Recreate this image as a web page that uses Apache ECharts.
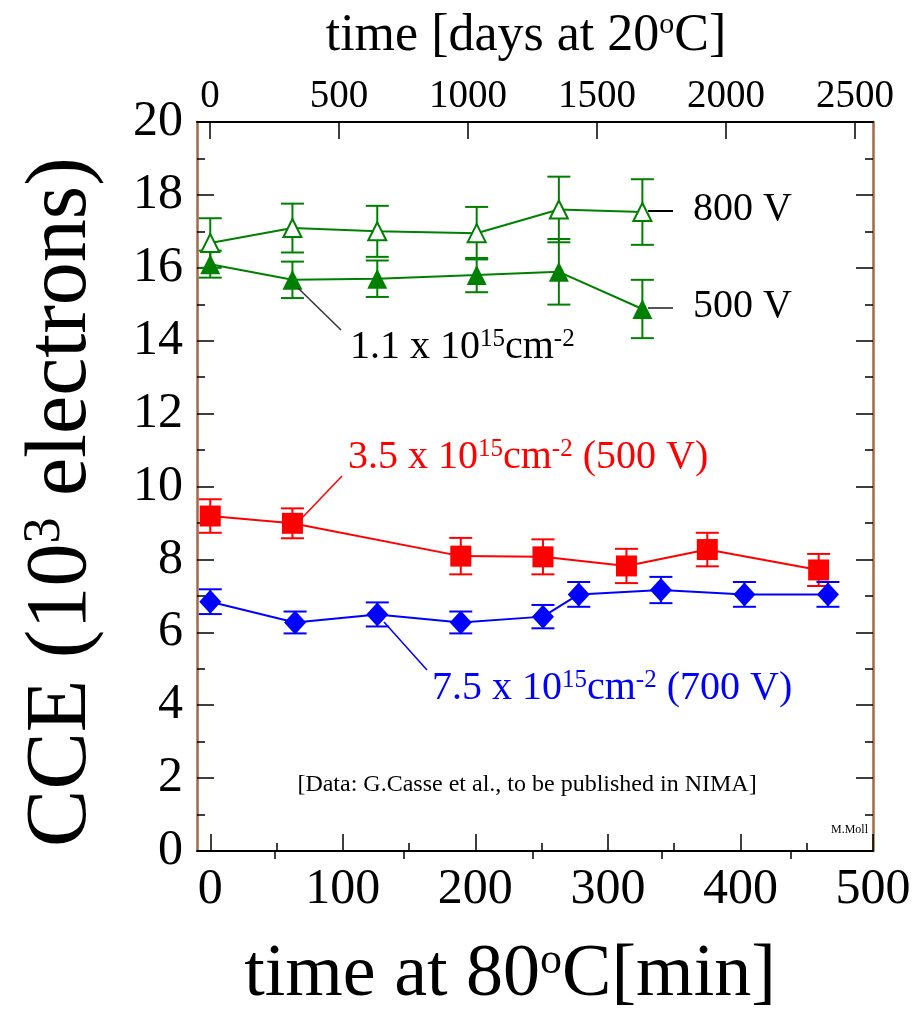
<!DOCTYPE html>
<html>
<head>
<meta charset="utf-8">
<script src="https://cdn.jsdelivr.net/npm/echarts@6/dist/echarts.min.js"></script>
<style>
html,body{margin:0;padding:0;background:#fff;}
#chart{width:920px;height:1009px;}
</style>
</head>
<body>
<div id="chart"></div>
<script>
// ---- data ----
const time800 = [0, 62, 126, 201, 263, 326];
const cce800  = [16.68, 17.09, 17.0, 16.95, 17.6, 17.53];
const err800  = [0.68, 0.67, 0.7, 0.72, 0.9, 0.9];

const time500 = [0, 62, 126, 201, 263, 326];
const cce500  = [16.1, 15.67, 15.7, 15.8, 15.89, 14.87];
const err500  = [0.37, 0.5, 0.5, 0.47, 0.9, 0.8];

const time35 = [0, 62, 189, 251, 314, 375, 459];
const cce35  = [9.19, 8.99, 8.09, 8.07, 7.82, 8.27, 7.71];
const err35  = [0.46, 0.41, 0.5, 0.48, 0.47, 0.46, 0.44];

const time75 = [0, 64, 126, 189, 251, 278, 340, 403, 466];
const cce75  = [6.84, 6.27, 6.49, 6.27, 6.43, 7.04, 7.16, 7.04, 7.04];
const err75  = [0.34, 0.3, 0.33, 0.3, 0.32, 0.34, 0.36, 0.34, 0.34];

const bottomTicks = [0, 100, 200, 300, 400, 500];
const bottomMinor = [50, 150, 250, 350, 450];
const topTicks = [0, 500, 1000, 1500, 2000, 2500];
const topMinor = [250, 750, 1250, 1750, 2250];

// ---- helpers ----
const FONT = '"Liberation Serif", "Times New Roman", serif';
const GREEN = '#008000', RED = '#ff0000', BLUE = '#0000ff', FRAME = '#a0694a';

function pts(t, v) { return t.map((x, i) => [x, v[i]]); }
function errs(t, v, e) { return t.map((x, i) => [x, v[i] - e[i], v[i] + e[i]]); }
function plain(v) { return String(v); }

function errSeries(t, v, e, color) {
  return {
    type: 'custom',
    xAxisIndex: 0, yAxisIndex: 0,
    z: 1,
    silent: true,
    data: errs(t, v, e),
    renderItem: function (params, api) {
      const x = api.value(0), lo = api.value(1), hi = api.value(2);
      const a = api.coord([x, hi]), b = api.coord([x, lo]);
      const w = 11.5;
      const st = { stroke: color, lineWidth: 2 };
      return {
        type: 'group',
        children: [
          { type: 'line', shape: { x1: a[0], y1: a[1], x2: b[0], y2: b[1] }, style: st },
          { type: 'line', shape: { x1: a[0] - w, y1: a[1], x2: a[0] + w, y2: a[1] }, style: st },
          { type: 'line', shape: { x1: b[0] - w, y1: b[1], x2: b[0] + w, y2: b[1] }, style: st }
        ]
      };
    }
  };
}

function lineSeries(t, v, color, symbol, size, fill) {
  return {
    type: 'line',
    xAxisIndex: 0, yAxisIndex: 0,
    z: 3,
    data: pts(t, v),
    symbol: symbol,
    symbolSize: size,
    showAllSymbol: true,
    lineStyle: { color: color, width: 2 },
    itemStyle: { color: fill || color, borderColor: color, borderWidth: fill ? 2 : 0 },
    emphasis: { disabled: true },
    animation: false
  };
}

function xAxisBase(pos, min, max) {
  return {
    type: 'value', position: pos, min: min, max: max,
    splitLine: { show: false },
    axisLine: { show: true, onZero: false, lineStyle: { color: '#000', width: 2 } }
  };
}

const chart = echarts.init(document.getElementById('chart'), null, { renderer: 'canvas' });

const sup = { fontFamily: FONT, fontSize: 25, verticalAlign: 'top', padding: [0, 0, 16, 0] };

const option = {
  animation: false,
  backgroundColor: '#fff',
  grid: { left: 197, right: 47, top: 122, bottom: 158, containLabel: false },
  xAxis: [
    Object.assign(xAxisBase('bottom', -10, 500), {
      axisTick: { show: true, inside: true, length: 17, customValues: bottomTicks, lineStyle: { color: '#000', width: 1.5 } },
      axisLabel: { show: true, customValues: bottomTicks, formatter: plain, margin: 14, color: '#000', fontFamily: FONT, fontSize: 50 }
    }),
    Object.assign(xAxisBase('bottom', -10, 500), {
      axisLine: { show: false },
      axisTick: { show: true, inside: true, length: 8, customValues: bottomMinor, lineStyle: { color: '#000', width: 1.5 } },
      axisLabel: { show: false }
    }),
    Object.assign(xAxisBase('top', -50, 2570), {
      axisTick: { show: true, inside: true, length: 17, customValues: topTicks, lineStyle: { color: '#000', width: 1.5 } },
      axisLabel: { show: true, customValues: topTicks, formatter: plain, margin: 6, color: '#000', fontFamily: FONT, fontSize: 39 }
    }),
    Object.assign(xAxisBase('top', -50, 2570), {
      axisLine: { show: false },
      axisTick: { show: true, inside: true, length: 8, customValues: topMinor, lineStyle: { color: '#000', width: 1.5 } },
      axisLabel: { show: false }
    })
  ],
  yAxis: [
    {
      type: 'value', position: 'left', min: 0, max: 20, interval: 2,
      splitLine: { show: false },
      axisLine: { show: true, onZero: false, lineStyle: { color: FRAME, width: 2.5 } },
      axisTick: { show: true, inside: true, length: 17, lineStyle: { color: '#000', width: 1.5 } },
      minorTick: { show: true, splitNumber: 2, length: 8, lineStyle: { color: '#000', width: 1.5 } },
      axisLabel: { show: true, formatter: plain, margin: 14, color: '#000', fontFamily: FONT, fontSize: 50 }
    },
    {
      type: 'value', position: 'right', min: 0, max: 20, interval: 2,
      splitLine: { show: false },
      axisLine: { show: true, onZero: false, lineStyle: { color: FRAME, width: 2.5 } },
      axisTick: { show: true, inside: true, length: 17, lineStyle: { color: '#000', width: 1.5 } },
      minorTick: { show: true, splitNumber: 2, length: 8, lineStyle: { color: '#000', width: 1.5 } },
      axisLabel: { show: false }
    }
  ],
  series: [
    errSeries(time800, cce800, err800, GREEN),
    errSeries(time500, cce500, err500, GREEN),
    errSeries(time35, cce35, err35, RED),
    errSeries(time75, cce75, err75, BLUE),
    lineSeries(time800, cce800, GREEN, 'triangle', 18, '#ffffff'),
    lineSeries(time500, cce500, GREEN, 'triangle', 20),
    lineSeries(time35, cce35, RED, 'rect', 21),
    lineSeries(time75, cce75, BLUE, 'diamond', [22, 24])
  ],
  graphic: [
    // axis titles
    {
      type: 'text', x: 62, y: 502, rotation: Math.PI / 2, z: 10,
      style: {
        text: '{n|CCE (10}{s|3}{n| electrons)}', align: 'center', verticalAlign: 'middle',
        rich: { n: { fontFamily: FONT, fontSize: 86, fill: '#000' }, s: { fontFamily: FONT, fontSize: 52, verticalAlign: 'top', padding: [0, 0, 30, 0], fill: '#000' } }
      }
    },
    {
      type: 'text', x: 526, y: 36, z: 10,
      style: {
        text: '{n|time [days at 20}{s|o}{n|C]}', align: 'center', verticalAlign: 'middle',
        rich: { n: { fontFamily: FONT, fontSize: 52, fill: '#000' }, s: { fontFamily: FONT, fontSize: 30, verticalAlign: 'top', padding: [0, 0, 20, 0], fill: '#000' } }
      }
    },
    {
      type: 'text', x: 510, y: 976, z: 10,
      style: {
        text: '{n|time at 80}{s|o}{n|C[min]}', align: 'center', verticalAlign: 'middle',
        rich: { n: { fontFamily: FONT, fontSize: 74, fill: '#000' }, s: { fontFamily: FONT, fontSize: 44, verticalAlign: 'top', padding: [0, 0, 28, 0], fill: '#000' } }
      }
    },
    // annotations
    { type: 'line', z: 5, shape: { x1: 648, y1: 211, x2: 673, y2: 211 }, style: { stroke: '#000', lineWidth: 2 } },
    { type: 'line', z: 5, shape: { x1: 648, y1: 308, x2: 673, y2: 308 }, style: { stroke: '#555', lineWidth: 2 } },
    { type: 'text', x: 693, y: 209, z: 10, style: { text: '800 V', fontFamily: FONT, fontSize: 40, fill: '#000', verticalAlign: 'middle' } },
    { type: 'text', x: 693, y: 306, z: 10, style: { text: '500 V', fontFamily: FONT, fontSize: 40, fill: '#000', verticalAlign: 'middle' } },
    { type: 'line', z: 5, shape: { x1: 298, y1: 288, x2: 341, y2: 330 }, style: { stroke: '#333', lineWidth: 1.5 } },
    {
      type: 'text', x: 350, y: 347, z: 10,
      style: {
        text: '{n|1.1 x 10}{s|15}{n|cm}{s|-2}', verticalAlign: 'middle',
        rich: { n: { fontFamily: FONT, fontSize: 40, fill: '#000' }, s: Object.assign({}, sup, { fill: '#000' }) }
      }
    },
    { type: 'line', z: 5, shape: { x1: 302, y1: 518, x2: 342, y2: 476 }, style: { stroke: RED, lineWidth: 1.5 } },
    {
      type: 'text', x: 348, y: 457, z: 10,
      style: {
        text: '{n|3.5 x 10}{s|15}{n|cm}{s|-2}{n| (500 V)}', verticalAlign: 'middle',
        rich: { n: { fontFamily: FONT, fontSize: 40, fill: RED }, s: Object.assign({}, sup, { fill: RED }) }
      }
    },
    { type: 'line', z: 5, shape: { x1: 384, y1: 622, x2: 427, y2: 670 }, style: { stroke: BLUE, lineWidth: 1.5 } },
    {
      type: 'text', x: 432, y: 688, z: 10,
      style: {
        text: '{n|7.5 x 10}{s|15}{n|cm}{s|-2}{n| (700 V)}', verticalAlign: 'middle',
        rich: { n: { fontFamily: FONT, fontSize: 40, fill: BLUE }, s: Object.assign({}, sup, { fill: BLUE }) }
      }
    },
    { type: 'text', x: 527, y: 785, z: 10, style: { text: '[Data: G.Casse et al., to be published in NIMA]', fontFamily: FONT, fontSize: 24, fill: '#000', align: 'center', verticalAlign: 'middle' } },
    { type: 'text', x: 868, y: 830, z: 10, style: { text: 'M.Moll', fontFamily: FONT, fontSize: 12, fill: '#000', align: 'right', verticalAlign: 'middle' } }
  ]
};

chart.setOption(option);
</script>
</body>
</html>
